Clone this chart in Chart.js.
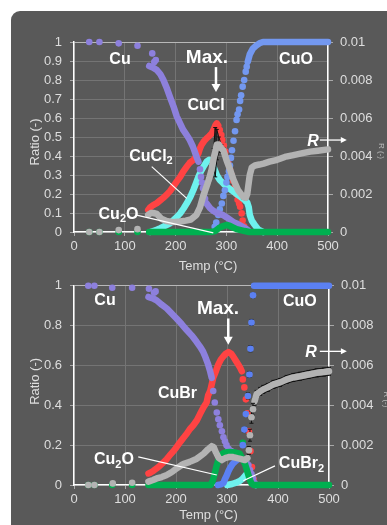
<!DOCTYPE html>
<html>
<head>
<meta charset="utf-8">
<script src="https://cdn.jsdelivr.net/npm/chart.js@4.4.1/dist/chart.umd.min.js"></script>
<style>
  html, body { margin: 0; padding: 0; background: #fff; width: 387px; height: 525px; overflow: hidden; }
  #panel { position: absolute; left: 11px; top: 11px; width: 400px; height: 530px; background: #595959; border-top-left-radius: 9px; }
  canvas { position: absolute; left: 0; }
  #c1 { top: 0; }
  #c2 { top: 270px; }
</style>
</head>
<body>
<div id="panel"></div>
<canvas id="c1" width="387" height="282"></canvas>
<canvas id="c2" width="387" height="255"></canvas>
<script>
// ---- top chart (CuCl system): [temp, ratio] ; R as [temp, R, error] ----
const cuDots1 = [[30, 1], [50, 1], [88, 0.993], [125, 0.98], [154, 0.94], [158, 0.895], [161, 0.905],
  [248, 0.33], [250, 0.29], [252, 0.26], [254, 0.23], [256, 0.2], [258, 0.175]];
const cuLine1a = [[148, 0.874], [156, 0.865], [163, 0.853], [170, 0.83], [176, 0.8], [183, 0.755], [189, 0.71],
  [196, 0.66], [202, 0.61], [209, 0.57], [215, 0.537], [222, 0.51], [228, 0.484], [234, 0.45], [238, 0.42],
  [242, 0.39], [245, 0.37]];
const cuLine1b = [[261, 0.15], [268, 0.125], [275, 0.11], [281, 0.1], [288, 0.095], [294, 0.088], [300, 0.078],
  [307, 0.065], [314, 0.052], [320, 0.045], [327, 0.035], [334, 0.025], [340, 0.015], [345, 0.002]];
const cuoDots1 = [[277, 0.028], [280, 0.05], [284, 0.09], [287, 0.12], [291, 0.15], [294, 0.19], [297, 0.22],
  [300, 0.26], [302, 0.29], [305, 0.32], [307, 0.35], [309, 0.39], [311, 0.43], [314, 0.48], [317, 0.53],
  [320, 0.59], [322, 0.62], [325, 0.645], [327, 0.69], [329, 0.72], [332, 0.765], [335, 0.8], [338, 0.844], [340, 0.87]];
const cuoLine1 = [[342, 0.895], [346, 0.935], [352, 0.965], [358, 0.98], [365, 0.993], [372, 1], [500, 1]];
const cuclLine1 = [[146, 0.116], [150, 0.13], [156, 0.142], [163, 0.152], [169, 0.165], [176, 0.18], [182, 0.195],
  [189, 0.215], [195, 0.238], [202, 0.265], [209, 0.29], [215, 0.318], [222, 0.344], [228, 0.365], [235, 0.379],
  [240, 0.395], [245, 0.414], [248, 0.44], [251, 0.458], [256, 0.478], [261, 0.493], [266, 0.505], [271, 0.519],
  [275, 0.54], [278, 0.56], [281, 0.572], [284, 0.56]];
const cuclDots1 = [[287, 0.537], [290, 0.51], [292, 0.484], [295, 0.455], [298, 0.423], [301, 0.39], [304, 0.361],
  [307, 0.33], [310, 0.3], [313, 0.27], [316, 0.235], [319, 0.2], [322, 0.17], [325, 0.15], [327, 0.133],
  [330, 0.098], [332, 0.06], [335, 0.03], [338, 0.01]];
const cucl2Line1 = [[150, 0], [160, 0.008], [169, 0.019], [179, 0.032], [189, 0.046], [199, 0.07], [209, 0.098],
  [216, 0.125], [222, 0.151], [229, 0.185], [235, 0.221], [240, 0.255], [245, 0.291], [250, 0.32], [255, 0.344],
  [261, 0.37], [266, 0.38], [271, 0.37], [276, 0.335], [281, 0.3], [287, 0.274], [294, 0.255], [300, 0.24],
  [310, 0.22], [320, 0.2], [328, 0.185], [336, 0.168], [341, 0.155], [344, 0.13], [346, 0.09], [350, 0.06],
  [355, 0.04], [363, 0.012], [372, 0]];
const cu2oDots1 = [[30, 0], [50, 0], [88, 0], [125, 0]];
const cu2oLine1 = [[148, 0], [270, 0], [278, 0.005], [285, 0.02], [292, 0.03], [300, 0.037], [306, 0.033],
  [312, 0.025], [320, 0.015], [328, 0.01], [336, 0.005], [345, 0], [500, 0]];
const rDots1 = [[30, 0, 0], [50, 0, 0], [88, 0.0001, 0], [125, 0.00015, 0]];
const rLine1 = [[146, 0.0009, 0.0001], [151, 0.001, 0.0001], [156, 0.001, 0.0001], [163, 0.00095, 0.0001],
  [172, 0.0007, 0.0001], [182, 0.00058, 0.0001], [195, 0.00052, 0.0001], [209, 0.00055, 0.0001],
  [220, 0.0006, 0.0001], [230, 0.00066, 0.0001], [241, 0.0009, 0.0001], [248, 0.0013, 0.0001],
  [254, 0.00186, 0.0001], [261, 0.0024, 0.00015], [266, 0.0028, 0.0002], [271, 0.0033, 0.0003],
  [275, 0.0039, 0.0005], [278, 0.0042, 0.0013], [281, 0.0046, 0.0008], [285, 0.0046, 0.0004],
  [290, 0.0044, 0.0002], [294, 0.0043, 0.00015], [300, 0.0038, 0.0001], [307, 0.0033, 0.0001],
  [314, 0.00275, 0.0001], [323, 0.0022, 0.0001], [333, 0.00185, 0.0001], [338, 0.0018, 0.0001],
  [341, 0.002, 0.0001], [343, 0.0024, 0.0001], [346, 0.003, 0.0001], [350, 0.0034, 0.0001],
  [356, 0.0035, 0.0001], [365, 0.00355, 0.0001], [373, 0.0036, 0.0001], [385, 0.0037, 0.0001],
  [400, 0.0038, 0.0001], [415, 0.00395, 0.0001], [432, 0.00405, 0.0001], [450, 0.00415, 0.0001],
  [465, 0.00423, 0.0001], [480, 0.00428, 0.0001], [500, 0.00435, 0.0001]];

// ---- bottom chart (CuBr system) ----
const cuDots2 = [[28, 1], [40, 1], [75, 0.99], [114, 0.99], [147, 0.985], [157, 0.965], [160, 0.972],
  [273, 0.472], [276, 0.414], [280, 0.364], [283, 0.33], [286, 0.3], [290, 0.27], [293, 0.24], [296, 0.22],
  [299, 0.2], [303, 0.182], [308, 0.17], [313, 0.16], [318, 0.15], [323, 0.14], [328, 0.135], [333, 0.125],
  [338, 0.116], [342, 0.1], [345, 0.075], [348, 0.055], [351, 0.033], [354, 0.01]];
const cuLine2 = [[146, 0.944], [150, 0.94], [156, 0.935], [162, 0.927], [172, 0.905], [182, 0.886], [191, 0.862],
  [201, 0.836], [211, 0.808], [221, 0.778], [231, 0.75], [240, 0.72], [247, 0.695], [253, 0.67], [258, 0.64],
  [263, 0.605], [267, 0.57], [270, 0.538]];
const cuoLine2a = [[282, 0], [288, 0.003], [293, 0.01], [296, 0.03], [299, 0.045], [303, 0.07], [306, 0.085],
  [311, 0.105], [316, 0.118], [321, 0.128], [326, 0.133], [331, 0.13]];
const cuoDots2 = [[331, 0.2, 0.01], [334, 0.278, 0.012], [337, 0.356, 0.012], [341, 0.447, 0.015],
  [344, 0.555, 0.015], [346, 0.684, 0.015], [348, 0.816, 0.015], [351, 0.952, 0.012]];
const cuoLine2b = [[353, 1], [500, 1]];
const cubrLine2 = [[146, 0.058], [150, 0.062], [156, 0.072], [162, 0.083], [169, 0.098], [176, 0.115],
  [182, 0.13], [188, 0.15], [195, 0.17], [201, 0.19], [208, 0.215], [214, 0.235], [221, 0.257], [227, 0.28],
  [234, 0.3], [241, 0.325], [247, 0.356], [254, 0.39], [260, 0.414], [263, 0.45], [267, 0.472], [270, 0.505],
  [273, 0.538], [278, 0.57], [283, 0.605], [288, 0.63], [293, 0.646], [298, 0.66], [303, 0.667], [308, 0.66],
  [312, 0.646], [317, 0.625], [322, 0.605], [326, 0.588], [329, 0.571]];
const cubrDots2 = [[331, 0.53], [334, 0.49], [337, 0.43], [340, 0.36], [343, 0.27], [346, 0.17], [349, 0.09], [352, 0.03]];
const cu2oDots2 = [[28, 0], [40, 0], [75, 0], [114, 0], [331, 0.212]];
const cu2oLine2 = [[146, 0], [268, 0], [272, 0.02], [276, 0.058], [280, 0.1], [283, 0.124], [288, 0.15],
  [293, 0.16], [300, 0.165], [306, 0.166], [315, 0.163], [325, 0.157], [332, 0.124], [336, 0.1], [339, 0.075],
  [342, 0.05], [345, 0.025], [348, 0.008], [352, 0], [500, 0]];
const cubr2Line2 = [[300, 0], [310, 0.005], [318, 0.012], [325, 0.02], [330, 0.03], [335, 0.045], [340, 0.06],
  [344, 0.05], [348, 0.025], [352, 0.005], [356, 0]];
const rDots2 = [[28, 0, 0], [40, 0, 0], [76, 0.00008, 0], [114, 0.00011, 0], [343, 0.00174, 0.0002],
  [345, 0.0025, 0.0003], [348, 0.0034, 0.0003], [351, 0.0038, 0.0003]];
const rLine2a = [[146, 0.00017, 0.0001], [155, 0.00025, 0.0001], [162, 0.00033, 0.0001], [172, 0.0004, 0.0001],
  [182, 0.0005, 0.0001], [192, 0.00065, 0.0001], [201, 0.00083, 0.0001], [214, 0.00105, 0.0001],
  [227, 0.00116, 0.0001], [241, 0.00132, 0.0001], [254, 0.00157, 0.0001], [263, 0.0018, 0.0001],
  [270, 0.00195, 0.0001], [274, 0.0019, 0.0001], [278, 0.00165, 0.0001], [284, 0.00135, 0.0001],
  [290, 0.00125, 0.0001], [296, 0.00135, 0.0001], [303, 0.0014, 0.0001], [312, 0.0014, 0.0001],
  [320, 0.00135, 0.0001], [328, 0.0013, 0.0001], [335, 0.00125, 0.0001], [340, 0.00135, 0.0001]];
const rLine2b = [[354, 0.0042, 0.0002], [358, 0.00455, 0.0002], [365, 0.0047, 0.0002], [371, 0.0048, 0.0002],
  [380, 0.0049, 0.0002], [391, 0.00505, 0.0002], [404, 0.00515, 0.0002], [417, 0.0053, 0.0002],
  [430, 0.0054, 0.0002], [443, 0.00546, 0.0002], [460, 0.00555, 0.0002], [476, 0.00563, 0.0002],
  [490, 0.00567, 0.0002], [500, 0.00571, 0.0002]];

const tempTicks = [0, 100, 200, 300, 400, 500];

// colours
const purple = "#8d80dd";
const blue1 = "#7398f0";
const blue2 = "#5b80f2";
const red = "#ff4343";
const cyan = "#6ef2ee";
const green = "#00b050";
const gray = "#b3b3b3";
const gridColor = "#747474";
const tickMark = "#a8a8a8";
const textColor = "#dedede";
const fontFamily = '"Liberation Sans", Arial, sans-serif';

Chart.defaults.font.family = fontFamily;
Chart.defaults.color = textColor;

function pts(arr) {
  return arr.map((p) => ({ x: p[0], y: p[1] }));
}

function dots(arr, color, axis) {
  return {
    data: pts(arr),
    yAxisID: axis || "y",
    showLine: false,
    pointRadius: 3.3,
    pointBackgroundColor: color,
    pointBorderWidth: 0,
    clip: false,
    errs: arr[0].length > 2 ? arr.map((p) => p[2]) : null,
  };
}

function band(arr, color, axis) {
  return {
    data: pts(arr),
    yAxisID: axis || "y",
    showLine: true,
    borderColor: color,
    borderWidth: 6.5,
    borderCapStyle: "round",
    borderJoinStyle: "round",
    pointRadius: 0,
    clip: false,
    errs: arr[0].length > 2 ? arr.map((p) => p[2]) : null,
    bounds: arr[0].length > 2,
  };
}

// black error bars under the R points
const errorBars = {
  id: "errorBars",
  beforeDatasetDraw(chart, args) {
    const ds = chart.data.datasets[args.index];
    if (!ds.errs) return;
    const ctx = chart.ctx;
    const xs = chart.scales.x;
    const ys = chart.scales[ds.yAxisID];
    ctx.save();
    ctx.strokeStyle = "#111";
    ctx.lineWidth = 1;
    if (ds.bounds) {
      [1, -1].forEach((sgn) => {
        ctx.beginPath();
        ds.data.forEach((d, i) => {
          const px = xs.getPixelForValue(d.x);
          const py = ys.getPixelForValue(d.y + sgn * ds.errs[i]);
          i === 0 ? ctx.moveTo(px, py) : ctx.lineTo(px, py);
        });
        ctx.stroke();
      });
    }
    ds.data.forEach((d, i) => {
      const e = ds.errs[i];
      if (!e) return;
      const px = xs.getPixelForValue(d.x);
      const top = ys.getPixelForValue(d.y + e);
      const bot = ys.getPixelForValue(d.y - e);
      ctx.beginPath();
      ctx.moveTo(px, top);
      ctx.lineTo(px, bot);
      ctx.moveTo(px - 2, top);
      ctx.lineTo(px + 2, top);
      ctx.moveTo(px - 2, bot);
      ctx.lineTo(px + 2, bot);
      ctx.stroke();
    });
    ctx.restore();
  },
};

function arrowHead(ctx, x1, y1, x2, y2, len, half) {
  const a = Math.atan2(y2 - y1, x2 - x1);
  ctx.beginPath();
  ctx.moveTo(x2, y2);
  ctx.lineTo(x2 - len * Math.cos(a) + half * Math.sin(a), y2 - len * Math.sin(a) - half * Math.cos(a));
  ctx.lineTo(x2 - len * Math.cos(a) - half * Math.sin(a), y2 - len * Math.sin(a) + half * Math.cos(a));
  ctx.closePath();
  ctx.fill();
}

// text labels, leader lines, arrows, axis titles
function notesPlugin(labels, leaders, titles) {
  return {
    id: "notes",
    afterDatasetsDraw(chart) {
      const { ctx } = chart;
      const xs = chart.scales.x;
      const ys = chart.scales.y;
      ctx.save();
      ctx.fillStyle = "#fff";
      ctx.strokeStyle = "#fff";
      leaders.forEach((l) => {
        const x1 = xs.getPixelForValue(l.x1);
        const y1 = ys.getPixelForValue(l.y1);
        let x2 = xs.getPixelForValue(l.x2);
        let y2 = ys.getPixelForValue(l.y2);
        ctx.lineWidth = l.w;
        ctx.beginPath();
        ctx.moveTo(x1, y1);
        if (l.head) {
          const a = Math.atan2(y2 - y1, x2 - x1);
          ctx.lineTo(x2 - l.head * 0.8 * Math.cos(a), y2 - l.head * 0.8 * Math.sin(a));
        } else {
          ctx.lineTo(x2, y2);
        }
        ctx.stroke();
        if (l.head) arrowHead(ctx, x1, y1, x2, y2, l.head, l.half);
      });
      ctx.textBaseline = "alphabetic";
      labels.forEach((n) => {
        const main = (n.italic ? "italic " : "") + "bold " + n.size + "px " + fontFamily;
        const sub = "bold " + Math.round(n.size * 0.68) + "px " + fontFamily;
        let total = 0;
        n.parts.forEach((p) => {
          ctx.font = p.startsWith("_") ? sub : main;
          total += ctx.measureText(p.replace("_", "")).width;
        });
        let cx = xs.getPixelForValue(n.x) - total / 2;
        const base = ys.getPixelForValue(n.y) + n.size * 0.36;
        n.parts.forEach((p) => {
          const isSub = p.startsWith("_");
          const s = p.replace("_", "");
          ctx.font = isSub ? sub : main;
          ctx.fillText(s, cx, isSub ? base + n.size * 0.22 : base);
          cx += ctx.measureText(s).width;
        });
      });
      ctx.restore();
    },
    afterDraw(chart) {
      const { ctx, chartArea } = chart;
      ctx.save();
      ctx.fillStyle = textColor;
      ctx.font = "13px " + fontFamily;
      ctx.textAlign = "center";
      ctx.textBaseline = "middle";
      ctx.fillText("Temp (\u00b0C)", (chartArea.left + chartArea.right) / 2 + 7, chartArea.bottom + titles.xOff);
      ctx.save();
      ctx.translate(35, (chartArea.top + chartArea.bottom) / 2 + titles.yShift);
      ctx.rotate(-Math.PI / 2);
      ctx.fillText("Ratio (-)", 0, 0);
      ctx.restore();
      ctx.save();
      ctx.fillStyle = "#bdbdbd";
      ctx.font = "8px " + fontFamily;
      ctx.translate(titles.rX, (chartArea.top + chartArea.bottom) / 2 + titles.rShift);
      ctx.rotate(Math.PI / 2);
      ctx.fillText("R (-)", 0, 0);
      ctx.restore();
      ctx.restore();
    },
  };
}

function axes(step, xHeight, rightWidth) {
  const tickFont = { family: fontFamily, size: 13 };
  return {
    x: {
      type: "linear", min: 0, max: 500,
      afterBuildTicks: (s) => { s.ticks = tempTicks.map((v) => ({ value: v })); },
      ticks: { padding: 3, color: textColor, font: tickFont },
      grid: { color: gridColor, tickColor: tickMark, tickLength: 4 },
      border: { color: "#fff", width: 1.5 },
      afterFit: (s) => { s.height = xHeight; },
    },
    y: {
      min: 0, max: 1,
      ticks: { stepSize: step, padding: 8, color: textColor, font: tickFont, callback: (v) => String(+v.toFixed(1)) },
      grid: { color: (c) => (c.tick && c.tick.value === 1 ? "#b8b8b8" : gridColor), tickColor: tickMark, tickLength: 4 },
      border: { color: "#fff", width: 1.5 },
      afterFit: (s) => { s.width = 74; },
    },
    y1: {
      position: "right", min: 0, max: 0.01,
      ticks: { stepSize: 0.002, padding: 7, color: textColor, font: tickFont, callback: (v) => String(+v.toFixed(3)) },
      grid: { drawOnChartArea: false, tickColor: tickMark, tickLength: 5 },
      border: { color: "#fff", width: 1.5 },
      afterFit: (s) => { s.width = rightWidth; },
    },
  };
}

const baseOptions = (step, xh, rw, top) => ({
  responsive: false,
  animation: false,
  devicePixelRatio: 1,
  layout: { padding: { top: top, left: 0, right: 0, bottom: 0 } },
  plugins: { legend: { display: false }, tooltip: { enabled: false } },
  scales: axes(step, xh, rw),
});

// —— top chart ——
const labels1 = [
  { parts: ["Cu"], x: 90.6, y: 0.916, size: 16 },
  { parts: ["Max."], x: 261.8, y: 0.926, size: 19 },
  { parts: ["CuCl"], x: 260, y: 0.674, size: 16 },
  { parts: ["CuO"], x: 437, y: 0.916, size: 16 },
  { parts: ["CuCl", "_2"], x: 151.6, y: 0.405, size: 16 },
  { parts: ["Cu", "_2", "O"], x: 87.6, y: 0.1, size: 16 },
  { parts: ["R"], x: 470.5, y: 0.484, size: 16, italic: true },
];
const leaders1 = [
  { x1: 279.5, y1: 0.868, x2: 279.5, y2: 0.737, w: 2.5, head: 8, half: 4.5 },
  { x1: 153, y1: 0.344, x2: 221.9, y2: 0.177, w: 1.2 },
  { x1: 123.4, y1: 0.089, x2: 274.2, y2: -0.005, w: 1.2 },
  { x1: 484, y1: 0.484, x2: 537, y2: 0.484, w: 1.3, head: 6, half: 3 },
];

new Chart(document.getElementById("c1"), {
  type: "scatter",
  data: {
    datasets: [
      dots(rDots1, gray, "y1"),
      band(rLine1, gray, "y1"),
      dots(cu2oDots1, green),
      band(cu2oLine1, green),
      dots(cuDots1, purple),
      band(cuLine1a, purple),
      band(cuLine1b, purple),
      dots(cuoDots1, blue1),
      band(cuoLine1, blue1),
      band(cucl2Line1, cyan),
      dots(cuclDots1, red),
      band(cuclLine1, red),
    ],
  },
  options: baseOptions(0.1, 50, 59, 42),
  plugins: [errorBars, notesPlugin(labels1, leaders1, { xOff: 34, yShift: 5, rX: 381, rShift: 14 })],
});

// —— bottom chart ——
const labels2 = [
  { parts: ["Cu"], x: 60.8, y: 0.931, size: 16 },
  { parts: ["Max."], x: 282.4, y: 0.892, size: 19 },
  { parts: ["CuBr"], x: 203, y: 0.464, size: 16 },
  { parts: ["CuO"], x: 443, y: 0.929, size: 16 },
  { parts: ["Cu", "_2", "O"], x: 78.4, y: 0.134, size: 16 },
  { parts: ["CuBr", "_2"], x: 446, y: 0.114, size: 16 },
  { parts: ["R"], x: 464.7, y: 0.671, size: 16, italic: true },
];
const leaders2 = [
  { x1: 302.5, y1: 0.836, x2: 302.5, y2: 0.704, w: 2.5, head: 8, half: 4.5 },
  { x1: 126, y1: 0.141, x2: 280, y2: 0.05, w: 1.2 },
  { x1: 394, y1: 0.096, x2: 332, y2: 0.021, w: 1.2 },
  { x1: 482, y1: 0.671, x2: 535, y2: 0.671, w: 1.3, head: 6, half: 3 },
];

new Chart(document.getElementById("c2"), {
  type: "scatter",
  data: {
    datasets: [
      dots(rDots2, gray, "y1"),
      band(rLine2a, gray, "y1"),
      band(rLine2b, gray, "y1"),
      dots(cuoDots2, blue2),
      dots(cu2oDots2, green),
      band(cu2oLine2, green),
      dots(cuDots2, purple),
      band(cuLine2, purple),
      band(cuoLine2a, blue2),
      band(cuoLine2b, blue2),
      band(cubr2Line2, cyan),
      dots(cubrDots2, red),
      band(cubrLine2, red),
    ],
  },
  options: baseOptions(0.2, 40, 58, 14),
  plugins: [errorBars, notesPlugin(labels2, leaders2, { xOff: 30, yShift: -4, rX: 386, rShift: 14 })],
});
</script>
</body>
</html>
